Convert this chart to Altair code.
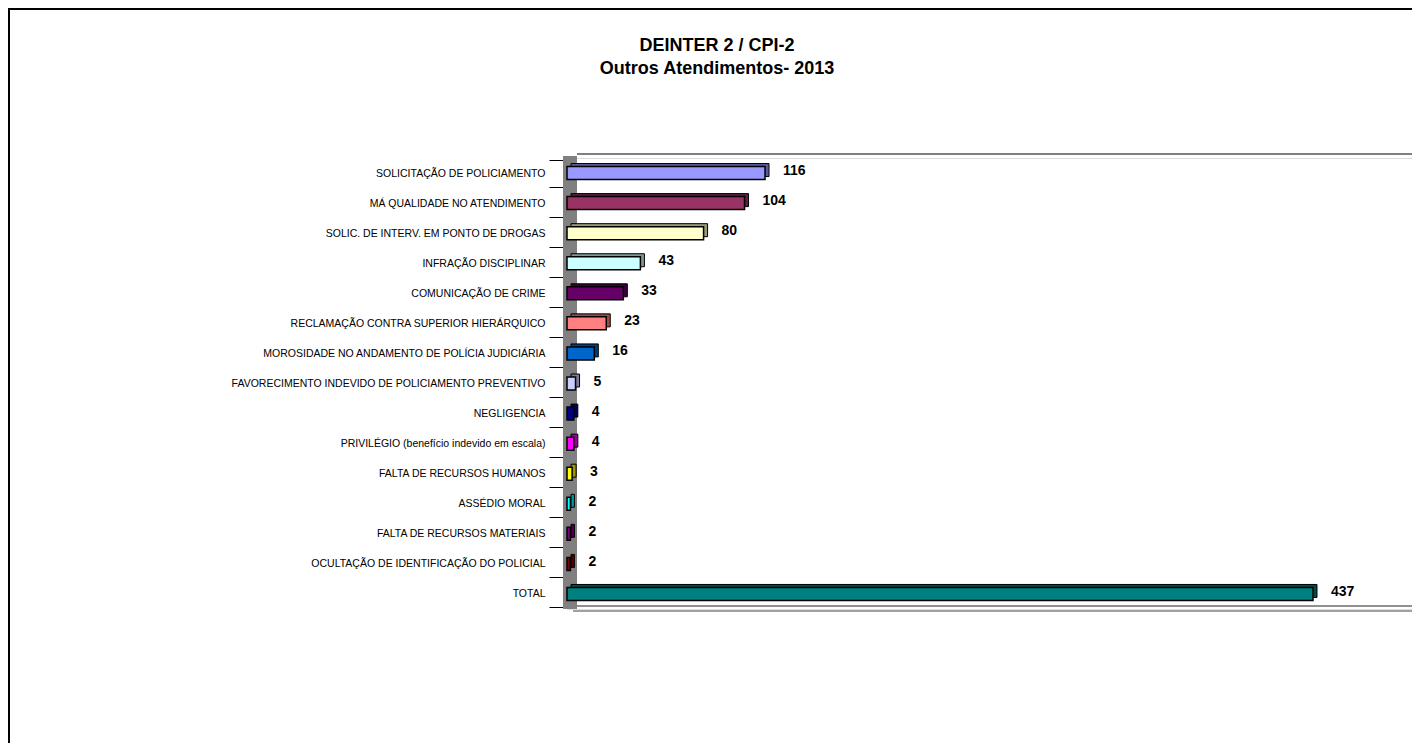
import altair as alt
import pandas as pd

categories = [
    "SOLICITAÇÃO DE POLICIAMENTO",
    "MÁ QUALIDADE NO ATENDIMENTO",
    "SOLIC. DE INTERV. EM PONTO DE DROGAS",
    "INFRAÇÃO DISCIPLINAR",
    "COMUNICAÇÃO DE CRIME",
    "RECLAMAÇÃO CONTRA SUPERIOR HIERÁRQUICO",
    "MOROSIDADE NO ANDAMENTO DE POLÍCIA JUDICIÁRIA",
    "FAVORECIMENTO INDEVIDO DE POLICIAMENTO PREVENTIVO",
    "NEGLIGENCIA",
    "PRIVILÉGIO (benefício indevido em escala)",
    "FALTA DE RECURSOS HUMANOS",
    "ASSÉDIO MORAL",
    "FALTA DE RECURSOS MATERIAIS",
    "OCULTAÇÃO DE IDENTIFICAÇÃO DO POLICIAL",
    "TOTAL",
]
values = [116, 104, 80, 43, 33, 23, 16, 5, 4, 4, 3, 2, 2, 2, 437]
colors = ["#9999FF", "#993366", "#FFFFCC", "#CCFFFF", "#660066", "#FF8080",
          "#0066CC", "#CCCCFF", "#000080", "#FF00FF", "#FFFF00", "#00FFFF",
          "#800080", "#800000", "#008080"]
title_lines = ["DEINTER 2 / CPI-2", "Outros Atendimentos- 2013"]


def darker(c, f=0.6):
    r, g, b = int(c[1:3], 16), int(c[3:5], 16), int(c[5:7], 16)
    return "#%02X%02X%02X" % (int(r * f), int(g * f), int(b * f))


dark_colors = [darker(c) for c in colors]

df = pd.DataFrame({"cat": categories, "val": values})
df["cat_back"] = df["cat"]
one = pd.DataFrame({"d": [0]})

W, H = 845, 451
FONT = "Liberation Sans"

xenc = alt.X("val:Q", scale=alt.Scale(domain=[0, 495], nice=False), axis=None)
yenc = alt.Y("cat:N", sort=categories, title=None,
             axis=alt.Axis(tickBand="extent", tickSize=14, offset=4, labelPadding=4,
                           domain=False, ticks=True, tickColor="black", labelColor="black",
                           labelFont=FONT, labelFontSize=10.5, labelLimit=600))

base = alt.Chart(df)

# decorations (frame / 3D wall / floor)
border = alt.Chart(one).mark_rect(fillOpacity=0, stroke="black", strokeWidth=2).encode(
    x=alt.value(-558), x2=alt.value(W + 50), y=alt.value(-149), y2=alt.value(H + 300))
wall = alt.Chart(one).mark_rect(color="#808080").encode(
    x=alt.value(-4), x2=alt.value(10), y=alt.value(-2), y2=alt.value(H))
backtop = alt.Chart(one).mark_rule(color="#808080", strokeWidth=2).encode(
    x=alt.value(10), x2=alt.value(W), y=alt.value(-4))
floor1 = alt.Chart(one).mark_rule(color="#909090", strokeWidth=2).encode(
    x=alt.value(10), x2=alt.value(W), y=alt.value(H - 3))
floor2 = alt.Chart(one).mark_rule(color="#A0A0A0", strokeWidth=2).encode(
    x=alt.value(6), x2=alt.value(W), y=alt.value(H + 2))

title1 = alt.Chart(one).mark_text(text=title_lines[0], font=FONT, fontSize=18, fontWeight="bold",
                                  align="center", baseline="middle", color="black").encode(
    x=alt.value(150), y=alt.value(-112))
title2 = alt.Chart(one).mark_text(text=title_lines[1], font=FONT, fontSize=18, fontWeight="bold",
                                  align="center", baseline="middle", color="black").encode(
    x=alt.value(150), y=alt.value(-89))

back = base.mark_bar(size=13, xOffset=4, x2Offset=4, yOffset=-3, y2Offset=-3,
                     stroke="black", strokeWidth=1).encode(
    x=xenc, y=yenc,
    fill=alt.Fill("cat_back:N", scale=alt.Scale(domain=categories, range=dark_colors), legend=None))

front = base.mark_bar(size=13, stroke="black", strokeWidth=1.5).encode(
    x=xenc, y=yenc,
    color=alt.Color("cat:N", scale=alt.Scale(domain=categories, range=colors), legend=None))

labels = base.mark_text(align="left", baseline="middle", dx=18, dy=-2, font=FONT,
                        fontSize=14, fontWeight="bold", color="black").encode(
    x=xenc, y=yenc, text=alt.Text("val:Q"))

chart = alt.layer(border, wall, backtop, floor1, floor2, title1, title2, back, front, labels).properties(
    width=W, height=H,
    autosize=alt.AutoSizeParams(type="none"),
    padding={"left": 559, "top": 150, "right": 0, "bottom": 134},
).resolve_scale(color="independent", fill="independent").configure_view(stroke=None).configure(background="white")

chart.save("out.html", embed_options={"renderer": "svg", "actions": False})
